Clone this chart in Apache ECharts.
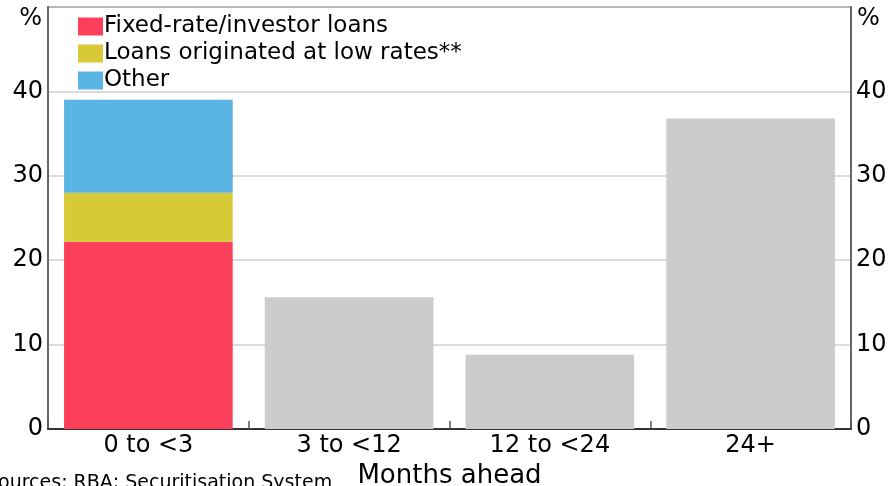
<!DOCTYPE html>
<html>
<head>
<meta charset="utf-8">
<script src="https://cdn.jsdelivr.net/npm/echarts@6/dist/echarts.min.js"></script>
<style>
  html, body { margin: 0; padding: 0; background: #fff; }
  #container { width: 888px; height: 486px; }
</style>
</head>
<body>
<div id="container"></div>
<script>
var categories = ['0 to <3', '3 to <12', '12 to <24', '24+'];
var fixedInvestor = [22.2, '-', '-', '-'];
var lowRates = [5.8, '-', '-', '-'];
var other = [11.0, '-', '-', '-'];
var total = ['-', 15.6, 8.8, 36.8];

var dom = document.getElementById('container');
var myChart = echarts.init(dom);
var font = 'DejaVu Sans, Arial, sans-serif';

var yAxisBase = function (pos) {
    return {
        type: 'value',
        position: pos,
        min: 0,
        max: 50,
        interval: 10,
        axisLine: { show: true, lineStyle: { color: '#666', width: 2 } },
        axisTick: { show: false },
        splitLine: { show: pos === 'left', lineStyle: { color: '#d0d0d0', width: 1.5 } },
        axisLabel: {
            color: '#000',
            fontSize: 24,
            fontFamily: font,
            margin: 5,
            formatter: function (v) { return v === 50 ? '' : v; }
        },
        name: '%',
        nameLocation: 'end',
        nameGap: -24,
        nameTextStyle: {
            color: '#000',
            fontSize: 24,
            fontFamily: font,
            align: pos === 'left' ? 'right' : 'left',
            padding: pos === 'left' ? [0, 6, 0, 0] : [0, 0, 0, 6]
        }
    };
};

var option = {
    animation: false,
    textStyle: { fontFamily: font },
    grid: {
        left: 48, right: 37, top: 7, bottom: 57,
        outerBoundsMode: 'none',
        show: true, borderColor: '#444', borderWidth: 1.5
    },
    legend: {
        orient: 'vertical',
        left: 73,
        top: 10,
        itemWidth: 25,
        itemHeight: 18,
        itemGap: 4,
        icon: 'rect',
        data: ['Fixed-rate/investor loans', 'Loans originated at low rates**', 'Other'],
        textStyle: { color: '#000', fontSize: 23, fontFamily: font, padding: [0, 0, 0, -4] }
    },
    xAxis: {
        type: 'category',
        data: categories,
        axisLine: { lineStyle: { color: '#333', width: 2 } },
        axisTick: { show: true, inside: true, length: 8, alignWithLabel: false, lineStyle: { color: '#555', width: 1.5 } },
        axisLabel: { color: '#000', fontSize: 24, fontFamily: font, margin: 5 },
        name: 'Months ahead',
        nameLocation: 'middle',
        nameGap: 34,
        nameTextStyle: { color: '#000', fontSize: 26, fontFamily: font }
    },
    yAxis: [yAxisBase('left'), yAxisBase('right')],
    graphic: [{
        type: 'text',
        left: -14,
        top: 474,
        style: { text: 'Sources: RBA; Securitisation System', fontSize: 19, fontFamily: font, fill: '#000' }
    }],
    series: [
        { name: 'Fixed-rate/investor loans', type: 'bar', stack: 'a', barWidth: '84%', data: fixedInvestor, itemStyle: { color: '#FC3F5B' } },
        { name: 'Loans originated at low rates**', type: 'bar', stack: 'a', data: lowRates, itemStyle: { color: '#D8C936' } },
        { name: 'Other', type: 'bar', stack: 'a', data: other, itemStyle: { color: '#5AB4E4' } },
        { name: 'Total', type: 'bar', stack: 'a', data: total, itemStyle: { color: '#CCCCCC' } }
    ]
};
myChart.setOption(option);
</script>
</body>
</html>
